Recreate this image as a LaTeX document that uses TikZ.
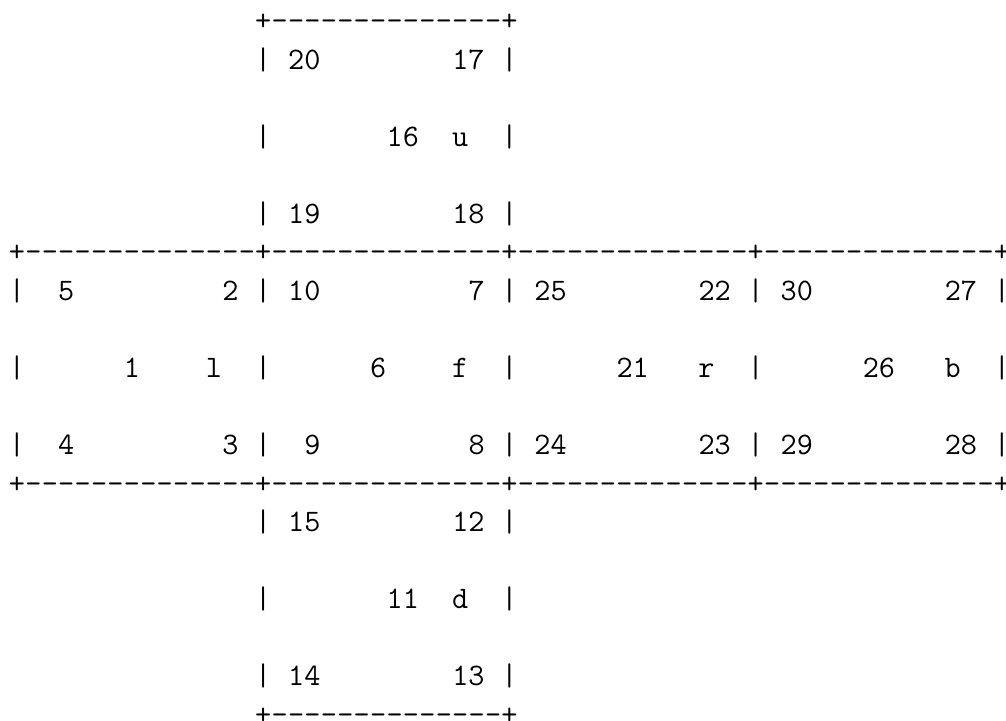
\documentclass[tikz,border=0pt]{standalone}
\begin{document}
\begin{tikzpicture}[x=8.2085pt,y=-19.25pt,
  every node/.style={inner sep=0pt,outer sep=0pt,anchor=base,
    font=\fontsize{15.64}{19.25}\selectfont\ttfamily}]
\useasboundingbox (0pt,0pt) rectangle (503pt,-360.5pt);
\begin{scope}[shift={(8.5pt,-15.5pt)}]
% horizontal border lines made of + and -
\foreach \j/\a/\b in {0/15/30, 6/0/60, 12/0/60, 18/15/30} {
  \foreach \k in {\a,...,\b} {
    \pgfmathtruncatemacro\m{mod(\k,15)}
    \ifnum\m=0
      \node (p\j-\k) at (\k,\j) {+};
    \else
      \node (h\j-\k) at (\k,\j) {-};
    \fi
  }
}
% vertical bars
\foreach \j in {1,3,5,13,15,17} {
  \foreach \k in {15,30} { \node (v\j-\k) at (\k,\j) {|}; }
}
\foreach \j in {7,9,11} {
  \foreach \k in {0,15,30,45,60} { \node (v\j-\k) at (\k,\j) {|}; }
}
% labels
\foreach \t/\k/\j in {20/17.5/1, 17/27.5/1, 16/23.5/3, u/27/3, 19/17.5/5, 18/27.5/5,
  5/3/7, 2/13/7, 10/17.5/7, 7/28/7, 25/32.5/7, 22/42.5/7, 30/47.5/7, 27/57.5/7,
  1/7/9, l/12/9, 6/22/9, f/27/9, 21/37.5/9, r/42/9, 26/52.5/9, b/57/9,
  4/3/11, 3/13/11, 9/18/11, 8/28/11, 24/32.5/11, 23/42.5/11, 29/47.5/11, 28/57.5/11,
  15/17.5/13, 12/27.5/13, 11/23.5/15, d/27/15, 14/17.5/17, 13/27.5/17} {
  \node (lab-\t) at (\k,\j) {\t};
}
\end{scope}
\end{tikzpicture}
\end{document}
